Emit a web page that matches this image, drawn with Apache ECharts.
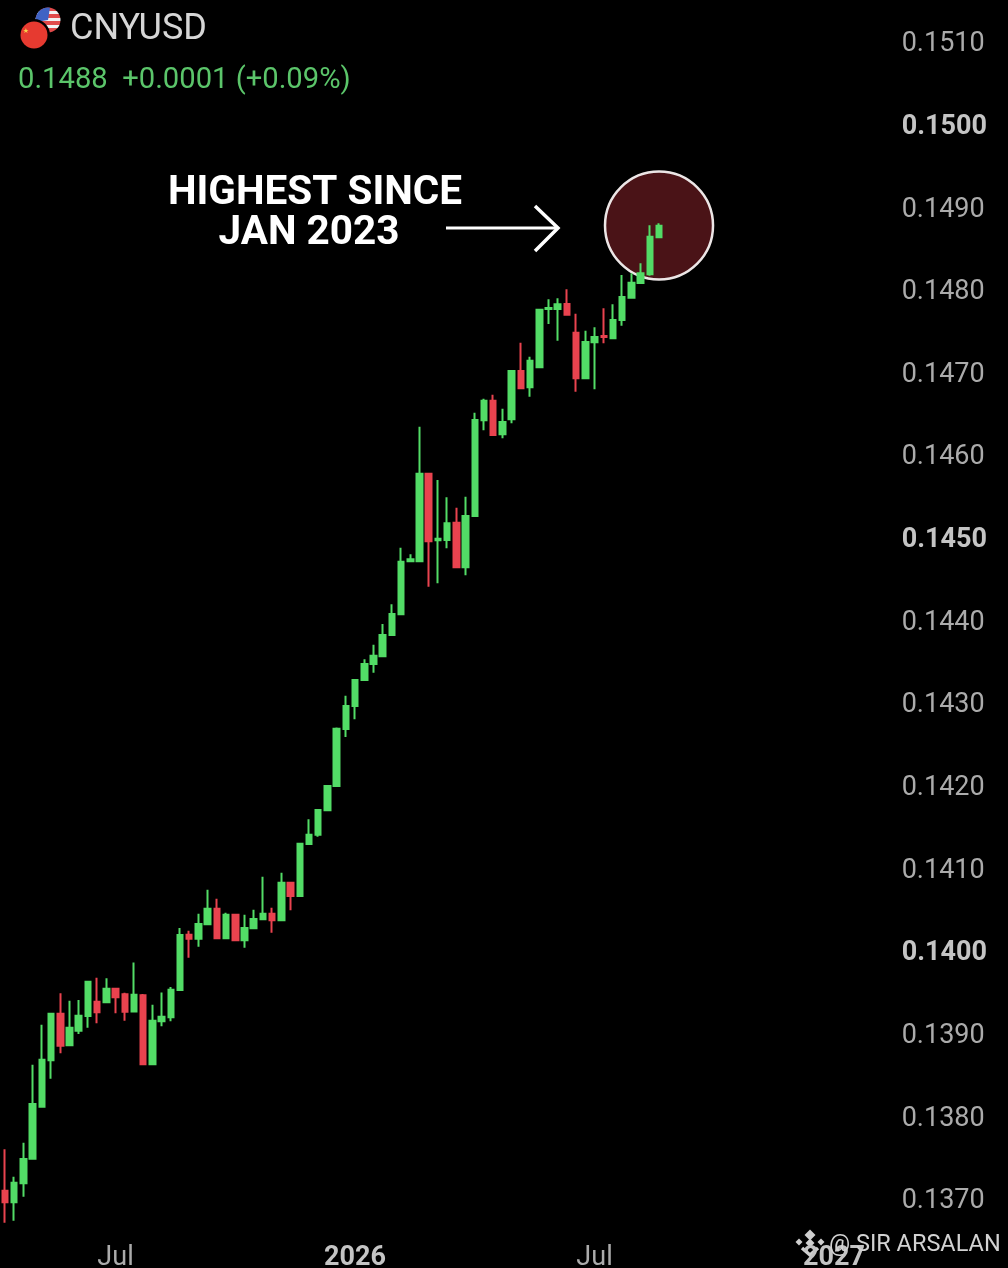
<!DOCTYPE html>
<html>
<head>
<meta charset="utf-8">
<style>html,body{margin:0;padding:0;background:#000}#c{width:1008px;height:1268px}</style>
<script src="https://cdn.jsdelivr.net/npm/echarts@6/dist/echarts.min.js"></script>
</head>
<body>
<div id="c"></div>
<script>
// Weekly CNYUSD candles
const opens = [0.137094,0.136954,0.137184,0.137482,0.138111,0.138672,0.139236,0.138854,0.139030,0.139208,0.139381,0.139374,0.139539,0.139471,0.139263,0.139459,0.138625,0.139144,0.139193,0.139523,0.140192,0.140144,0.140318,0.140507,0.140149,0.140434,0.140124,0.140270,0.140378,0.140446,0.140366,0.140821,0.140660,0.141290,0.141402,0.141697,0.141991,0.142681,0.142959,0.143274,0.143468,0.143561,0.143819,0.144069,0.144710,0.144710,0.145770,0.144965,0.144968,0.145177,0.144638,0.145258,0.146417,0.146654,0.146247,0.146429,0.147013,0.146816,0.147058,0.147763,0.147763,0.147824,0.147476,0.146925,0.147360,0.147437,0.147409,0.147630,0.147900,0.148078,0.148183,0.148631];
const closes = [0.136954,0.137191,0.137478,0.138143,0.138680,0.139236,0.138849,0.139067,0.139212,0.139623,0.139253,0.139539,0.139435,0.139260,0.139466,0.138625,0.139151,0.139199,0.139527,0.140188,0.140144,0.140322,0.140507,0.140149,0.140434,0.140124,0.140273,0.140382,0.140446,0.140366,0.140821,0.140660,0.141293,0.141402,0.141701,0.141991,0.142685,0.142959,0.143274,0.143468,0.143568,0.143819,0.144073,0.144705,0.144735,0.145770,0.144952,0.144984,0.145170,0.144638,0.145258,0.146420,0.146654,0.146239,0.146396,0.147013,0.146804,0.147138,0.147755,0.147775,0.147820,0.147694,0.146925,0.147364,0.147424,0.147424,0.147630,0.147908,0.148082,0.148195,0.148638,0.148771];
const lows = [0.136707,0.136731,0.137022,0.137482,0.138111,0.138450,0.138757,0.138854,0.138990,0.139067,0.139120,0.139374,0.139241,0.139151,0.139263,0.138625,0.138625,0.139084,0.139144,0.139523,0.139914,0.140047,0.140318,0.140149,0.140149,0.140124,0.140035,0.140270,0.140378,0.140216,0.140366,0.140487,0.140660,0.141290,0.141378,0.141697,0.141991,0.142584,0.142799,0.143274,0.143362,0.143561,0.143819,0.144069,0.144710,0.144710,0.144403,0.144444,0.144868,0.144638,0.144541,0.145258,0.146295,0.146239,0.146199,0.146380,0.146804,0.146702,0.147058,0.147582,0.147380,0.147694,0.146763,0.146925,0.146792,0.147348,0.147409,0.147561,0.147900,0.148078,0.148166,0.148631];
const highs = [0.137595,0.137264,0.137675,0.138619,0.139103,0.139236,0.139483,0.139393,0.139402,0.139623,0.139672,0.139664,0.139539,0.139490,0.139856,0.139475,0.139345,0.139493,0.139559,0.140273,0.140240,0.140446,0.140737,0.140628,0.140458,0.140434,0.140434,0.140495,0.140894,0.140519,0.140942,0.140821,0.141305,0.141588,0.141701,0.141991,0.142699,0.143084,0.143274,0.143524,0.143701,0.143952,0.144190,0.144875,0.144795,0.146339,0.145770,0.145694,0.145485,0.145359,0.145492,0.146509,0.146678,0.146726,0.146557,0.147013,0.147356,0.147186,0.147755,0.147881,0.147893,0.148002,0.147706,0.147501,0.147542,0.147772,0.147820,0.148175,0.148195,0.148316,0.148776,0.148800];
const totalWeeks = 96;
const categories = Array.from({length: totalWeeks}, (_, i) => 'W' + (i + 1));
const tickLabelAt = {12: 'Jul', 38: '2026', 64: 'Jul', 90: '2027'};
const boldTickLabels = ['2026', '2027'];
const boldPrices = ['0.1500', '0.1450', '0.1400'];
const highlightPoint = [71, 0.148773];

const GREEN = '#52dc66', RED = '#e9434f', GREY = '#ababab', BOLDGREY = '#c4c4c4';
const candles = opens.map((o, i) => [o, closes[i], lows[i], highs[i]]);
const chart = echarts.init(document.getElementById('c'), null, {renderer: 'canvas'});

const mark = '#cfcfcf';
const diamond = (cx, cy, r) => ({type: 'polygon', shape: {points: [[cx, cy - r], [cx + r, cy], [cx, cy + r], [cx - r, cy]]}, style: {fill: mark}});

chart.setOption({
  backgroundColor: '#000',
  animation: false,
  grid: {left: 0.4, width: 884.3, top: 41.5, height: 1157, containLabel: false, outerBoundsMode: 'none'},
  xAxis: {
    type: 'category', data: categories, boundaryGap: true,
    axisLine: {show: false}, axisTick: {show: false}, splitLine: {show: false},
    axisLabel: {
      interval: 0, margin: 46, hideOverlap: false,
      formatter: (v, i) => {
        const t = tickLabelAt[i];
        if (!t) return '';
        return boldTickLabels.includes(t) ? '{b|' + t + '}' : '{n|' + t + '}';
      },
      rich: {
        n: {color: GREY, fontFamily: 'Roboto', fontSize: 27},
        b: {color: BOLDGREY, fontFamily: 'Roboto', fontSize: 27, fontWeight: 'bold'}
      }
    }
  },
  yAxis: {
    type: 'value', position: 'right', min: 0.137, max: 0.151, interval: 0.001,
    axisLine: {show: false}, axisTick: {show: false}, splitLine: {show: false},
    axisLabel: {
      margin: 17, padding: [6, 0, 0, 0],
      formatter: v => {
        const s = v.toFixed(4);
        return boldPrices.includes(s) ? '{b|' + s + '}' : '{n|' + s + '}';
      },
      rich: {
        n: {color: GREY, fontFamily: 'Roboto', fontSize: 27},
        b: {color: BOLDGREY, fontFamily: 'Roboto', fontSize: 27, fontWeight: 'bold'}
      }
    }
  },
  series: [
    {
      type: 'scatter', data: [highlightPoint], symbol: 'circle', symbolSize: 108, z: 1, silent: true, clip: false,
      itemStyle: {color: '#4a1317', borderColor: '#ece6e6', borderWidth: 2.5, opacity: 1}
    },
    {
      type: 'candlestick', data: candles, z: 3, clip: false, barWidth: 6,
      itemStyle: {color: GREEN, color0: RED, borderColor: GREEN, borderColor0: RED, borderWidth: 2}
    }
  ],
  graphic: [
    // flags
    {type: 'circle', shape: {cx: 48, cy: 20, r: 12.5}, z: 10, style: {fill: {type: 'linear', x: 0, y: 0, x2: 0, y2: 1, colorStops: [
      {offset: 0, color: '#e14a4a'}, {offset: .14, color: '#e14a4a'}, {offset: .14, color: '#f2f2f2'}, {offset: .28, color: '#f2f2f2'},
      {offset: .28, color: '#e14a4a'}, {offset: .42, color: '#e14a4a'}, {offset: .42, color: '#f2f2f2'}, {offset: .56, color: '#f2f2f2'},
      {offset: .56, color: '#e14a4a'}, {offset: .7, color: '#e14a4a'}, {offset: .7, color: '#f2f2f2'}, {offset: .84, color: '#f2f2f2'},
      {offset: .84, color: '#e14a4a'}, {offset: 1, color: '#e14a4a'}]}}},
    {type: 'sector', shape: {cx: 48, cy: 20, r: 12.5, r0: 0, startAngle: Math.PI * 0.95, endAngle: Math.PI * 1.55}, z: 11, style: {fill: '#3f63c4'}},
    {type: 'circle', shape: {cx: 34, cy: 35, r: 16}, z: 12, style: {fill: '#000'}},
    {type: 'circle', shape: {cx: 34, cy: 35, r: 13.5}, z: 13, style: {fill: '#e63a30'}},
    {type: 'text', x: 26, y: 31, z: 14, style: {text: '★', fill: '#f6d34a', font: '7px "DejaVu Sans"', align: 'center', verticalAlign: 'middle'}},
    // header
    {type: 'text', x: 70, y: 30, z: 14, style: {text: 'CNYUSD', fill: '#d6d6d6', font: '36px Roboto', align: 'left', verticalAlign: 'middle'}},
    {type: 'text', x: 18, y: 81, z: 14, style: {text: '0.1488  +0.0001 (+0.09%)', fill: '#5bc56a', font: '29.2px Roboto', align: 'left', verticalAlign: 'middle'}},
    // annotation
    {type: 'text', x: 315, y: 194, z: 14, style: {text: 'HIGHEST SINCE', fill: '#fff', font: 'bold 40.5px Roboto', align: 'center', verticalAlign: 'middle'}},
    {type: 'text', x: 309, y: 234, z: 14, style: {text: 'JAN 2023', fill: '#fff', font: 'bold 40.5px Roboto', align: 'center', verticalAlign: 'middle'}},
    {type: 'polyline', z: 14, shape: {points: [[446, 228], [558, 228]]}, style: {stroke: '#fff', lineWidth: 3, fill: null}},
    {type: 'polyline', z: 14, shape: {points: [[535, 206], [558, 228], [535, 251]]}, style: {stroke: '#fff', lineWidth: 3.5, fill: null}},
    // watermark
    {type: 'group', z: 20, children: [
      diamond(810, 1235, 5.5), diamond(799, 1242, 3.5), diamond(821, 1242, 3.5), diamond(810, 1243, 4.5),
      {type: 'polyline', shape: {points: [[802, 1248], [810, 1255], [818, 1248]]}, style: {stroke: mark, lineWidth: 3.5, fill: null}}
    ]},
    {type: 'text', x: 829, y: 1245, z: 20, style: {text: '@ SIR ARSALAN', fill: '#d2d2d2', font: '23.5px Roboto', align: 'left', verticalAlign: 'middle'}}
  ]
});
</script>
</body>
</html>
